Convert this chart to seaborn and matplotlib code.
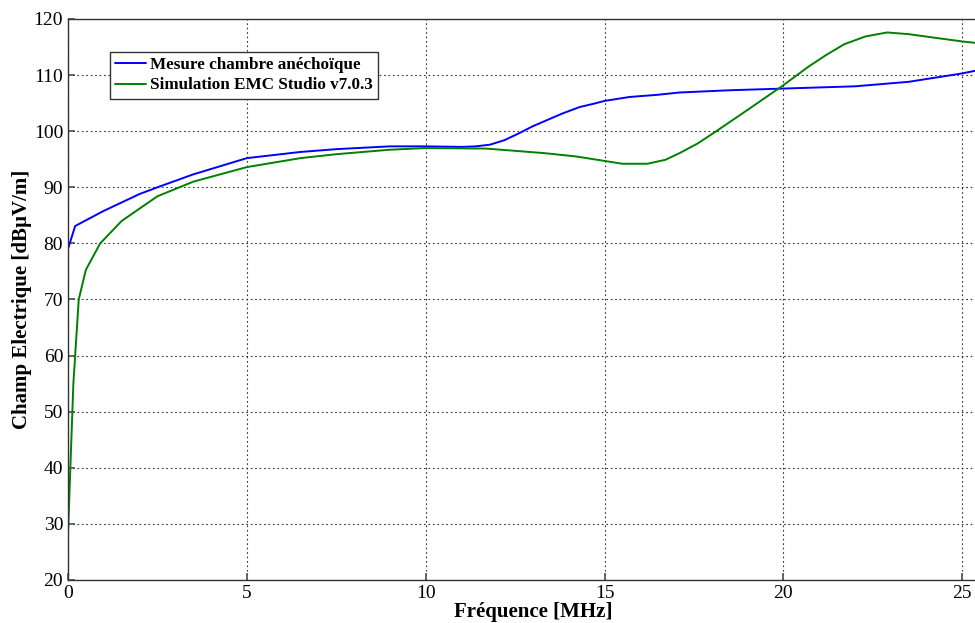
import pandas as pd
import matplotlib.pyplot as plt
import seaborn as sns

# Mesure chambre anéchoïque
freq_mesure = [0.0, 0.2, 1.0, 2.0, 2.5, 3.5, 5.0, 6.5, 7.5, 9.0, 10.0, 11.0, 11.4,
               11.8, 12.2, 12.6, 13.0, 13.4, 13.8, 14.3, 14.7, 15.0, 15.7, 16.5, 17.1,
               18.5, 20.0, 21.0, 22.0, 23.5, 24.5, 25.0, 26.0]
champ_mesure = [79.0, 83.1, 85.8, 88.8, 90.0, 92.3, 95.2, 96.3, 96.8, 97.3, 97.3, 97.2, 97.3,
                97.6, 98.4, 99.6, 100.9, 102.0, 103.1, 104.3, 104.9, 105.4, 106.1, 106.5, 106.9,
                107.3, 107.6, 107.8, 108.0, 108.8, 109.8, 110.3, 111.6]

# Simulation EMC Studio v7.0.3
freq_simu = [0.0, 0.15, 0.3, 0.5, 0.9, 1.5, 2.5, 3.5, 5.0, 6.5, 7.5, 9.0, 10.0, 11.7,
             13.3, 14.2, 15.0, 15.5, 16.2, 16.7, 17.1, 17.6, 18.1, 19.0, 20.0, 20.7,
             21.2, 21.7, 22.3, 22.9, 23.5, 24.3, 25.0, 26.0]
champ_simu = [28.3, 55.0, 70.0, 75.3, 80.0, 84.0, 88.4, 91.0, 93.6, 95.2, 95.9, 96.7, 97.0, 96.9,
              96.1, 95.5, 94.7, 94.2, 94.2, 94.9, 96.1, 97.8, 99.9, 103.8, 108.2, 111.5,
              113.6, 115.5, 116.9, 117.6, 117.3, 116.6, 116.0, 115.3]

labels = ['Mesure chambre anéchoïque', 'Simulation EMC Studio v7.0.3']

df = pd.concat([
    pd.DataFrame({'f': freq_mesure, 'E': champ_mesure, 'serie': labels[0]}),
    pd.DataFrame({'f': freq_simu, 'E': champ_simu, 'serie': labels[1]}),
])

sns.set_theme(style="ticks")
plt.rcParams['font.family'] = ['Liberation Serif', 'DejaVu Serif']
plt.rcParams['text.color'] = 'black'
plt.rcParams['axes.labelcolor'] = 'black'

fig = plt.figure(figsize=(9.75, 6.23), dpi=100)
ax = fig.add_axes([68 / 975, 1 - 580 / 623, 930 / 975, 561 / 623])

sns.lineplot(data=df, x='f', y='E', hue='serie', palette=['#0000ff', '#008000'],
             linewidth=1.4, sort=False, ax=ax, estimator=None)

ax.set_xlim(0, 26)
ax.set_ylim(20, 120)
ax.set_xticks([0, 5, 10, 15, 20, 25])
ax.set_yticks(range(20, 121, 10))
ax.grid(True, color='#333333', linestyle=(0, (1.5, 2.5)), linewidth=0.8)
ax.tick_params(direction='in', labelsize=14, length=5, color='#555555', labelcolor='black')
for s in ax.spines.values():
    s.set_color('#333333')
    s.set_linewidth(1.0)

ax.set_xlabel('Fréquence [MHz]', fontsize=15, fontweight='bold', labelpad=0)
ax.set_ylabel('Champ Electrique [dBµV/m]', fontsize=15, fontweight='bold', labelpad=1)

leg = ax.legend(loc='upper left', bbox_to_anchor=(0.045, 0.941), borderaxespad=0,
                frameon=True, fancybox=False, handlelength=1.8,
                handletextpad=0.25, borderpad=0.3, labelspacing=0.25,
                prop={'weight': 'bold', 'size': 12.3})
leg.get_frame().set_edgecolor('#333333')
leg.get_frame().set_linewidth(1.0)
leg.get_frame().set_alpha(1)
for text in leg.get_texts():
    text.set_color('black')
for line in leg.get_lines():
    line.set_linewidth(1.4)

fig.savefig('out.png', dpi=100)
